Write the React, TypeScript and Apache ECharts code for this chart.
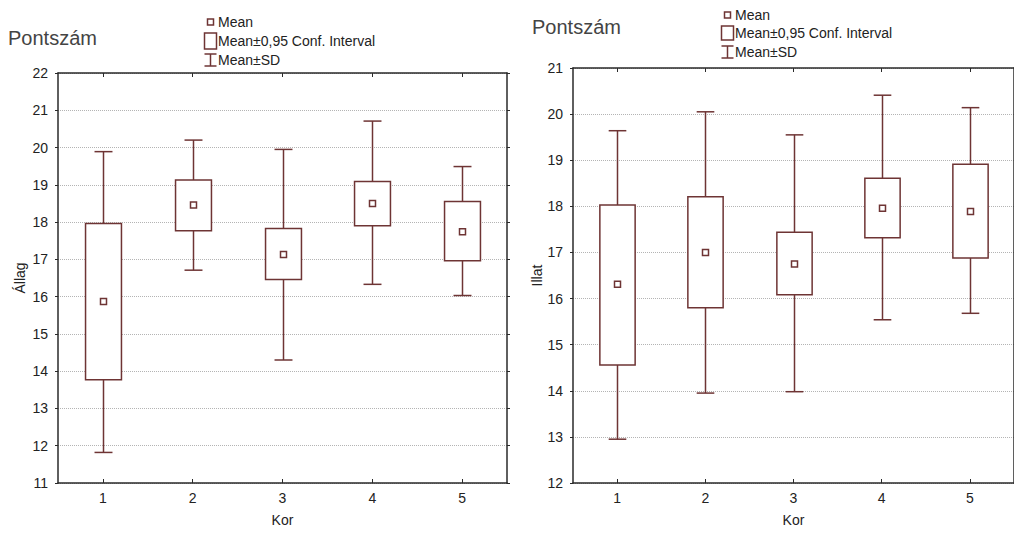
import React, { useEffect, useRef } from "react";
import * as echarts from "echarts";

const categories = ["1", "2", "3", "4", "5"];

const allagMean = [15.87, 18.46, 17.13, 18.5, 17.74];
const allagCiLow = [13.77, 17.77, 16.46, 17.9, 16.96];
const allagCiHigh = [17.96, 19.13, 17.83, 19.09, 18.55];
const allagSdLow = [11.82, 16.71, 14.3, 16.33, 16.03];
const allagSdHigh = [19.89, 20.2, 19.95, 20.71, 19.49];

const illatMean = [16.31, 17.0, 16.75, 17.96, 17.89];
const illatCiLow = [14.56, 15.8, 16.08, 17.32, 16.88];
const illatCiHigh = [18.03, 18.21, 17.44, 18.61, 18.91];
const illatSdLow = [12.95, 13.95, 13.98, 15.54, 15.68];
const illatSdHigh = [19.64, 20.05, 19.55, 20.41, 20.14];

const leftTicks = { min: 11, max: 22 };
const rightTicks = { min: 12, max: 21 };

const MARK = "#6e3434";
const AXIS = "#2a2a2a";
const TXT = "#222222";
const FONT = "'Liberation Sans', Arial, sans-serif";

function rows(sdLo: number[], ciLo: number[], mean: number[], ciHi: number[], sdHi: number[]) {
  return categories.map((_, i) => [i, sdLo[i], ciLo[i], mean[i], ciHi[i], sdHi[i]]);
}

function renderBox(params: any, api: any) {
  const idx = api.value(0);
  const pSdLo = api.coord([idx, api.value(1)]);
  const pCiLo = api.coord([idx, api.value(2)]);
  const pMean = api.coord([idx, api.value(3)]);
  const pCiHi = api.coord([idx, api.value(4)]);
  const pSdHi = api.coord([idx, api.value(5)]);
  const band = api.size([1, 0])[0];
  const cx = Math.round(pMean[0]) + 0.5;
  const bw = band * 0.4;
  const cw = band * 0.2;
  const st = { stroke: MARK, lineWidth: 1.5, fill: "none" };
  return {
    type: "group",
    children: [
      { type: "line", shape: { x1: cx, y1: pSdLo[1], x2: cx, y2: pSdHi[1] }, style: st },
      { type: "line", shape: { x1: cx - cw / 2, y1: pSdLo[1], x2: cx + cw / 2, y2: pSdLo[1] }, style: st },
      { type: "line", shape: { x1: cx - cw / 2, y1: pSdHi[1], x2: cx + cw / 2, y2: pSdHi[1] }, style: st },
      {
        type: "rect",
        shape: { x: cx - bw / 2, y: pCiHi[1], width: bw, height: pCiLo[1] - pCiHi[1] },
        style: { stroke: MARK, lineWidth: 1.5, fill: "#ffffff" },
      },
      {
        type: "rect",
        shape: { x: cx - 3, y: pMean[1] - 3, width: 6, height: 6 },
        style: { stroke: MARK, lineWidth: 1.5, fill: "#ffffff" },
      },
    ],
  };
}

function xAxes(grid: number, name: string) {
  const base = {
    gridIndex: grid,
    type: "category",
    data: categories,
    boundaryGap: true,
    axisLine: { show: true, lineStyle: { color: AXIS, width: 1.5 } },
    axisTick: { show: true, inside: true, alignWithLabel: true, length: 4, lineStyle: { color: AXIS } },
    splitLine: { show: false },
  };
  return [
    {
      ...base,
      position: "bottom",
      axisLabel: { show: true, color: TXT, fontSize: 14, fontFamily: FONT, margin: 8 },
      name,
      nameLocation: "middle",
      nameGap: 30,
      nameTextStyle: { color: TXT, fontSize: 14, fontFamily: FONT },
    },
    { ...base, position: "top", axisLabel: { show: false } },
  ];
}

function yAxes(grid: number, lim: { min: number; max: number }, name: string, gap: number) {
  const base = {
    gridIndex: grid,
    type: "value",
    min: lim.min,
    max: lim.max,
    interval: 1,
    axisLine: { show: true, lineStyle: { color: AXIS, width: 1.5 } },
    axisTick: { show: true, inside: false, length: 3, lineStyle: { color: AXIS } },
  };
  return [
    {
      ...base,
      position: "left",
      axisLabel: { show: true, color: TXT, fontSize: 14, fontFamily: FONT, margin: 10 },
      splitLine: { show: true, lineStyle: { color: "#b4b4b4", type: "dotted", width: 1 } },
      name,
      nameLocation: "middle",
      nameRotate: 90,
      nameGap: gap,
      nameTextStyle: { color: TXT, fontSize: 14, fontFamily: FONT },
    },
    { ...base, position: "right", axisLabel: { show: false }, splitLine: { show: false } },
  ];
}

function legend(x0: number, rowsY: number[], rectH: number) {
  const st = { stroke: MARK, lineWidth: 1.5, fill: "none" };
  const ts = (t: string, y: number) => ({
    type: "text",
    x: x0 + 14,
    y,
    style: { text: t, fill: TXT, fontSize: 14, fontFamily: FONT, verticalAlign: "middle", align: "left" },
  });
  const cx = x0 + 6.5;
  return [
    { type: "rect", shape: { x: cx - 3, y: rowsY[0] - 3, width: 6, height: 6 }, style: { ...st, fill: "#fff" } },
    ts("Mean", rowsY[0]),
    { type: "rect", shape: { x: x0 + 0.5, y: rowsY[1] - rectH / 2, width: 12, height: rectH }, style: { ...st, fill: "#fff" } },
    ts("Mean±0,95 Conf. Interval", rowsY[1]),
    { type: "line", shape: { x1: cx, y1: rowsY[2] - 6, x2: cx, y2: rowsY[2] + 6 }, style: st },
    { type: "line", shape: { x1: x0 + 0.5, y1: rowsY[2] - 6, x2: x0 + 12.5, y2: rowsY[2] - 6 }, style: st },
    { type: "line", shape: { x1: x0 + 0.5, y1: rowsY[2] + 6, x2: x0 + 12.5, y2: rowsY[2] + 6 }, style: st },
    ts("Mean±SD", rowsY[2]),
  ];
}

export default function App() {
  const ref = useRef<HTMLDivElement>(null);
  useEffect(() => {
    if (!ref.current) return;
    const chart = echarts.init(ref.current, null, { renderer: "svg" });
    chart.setOption({
      animation: false,
      backgroundColor: "#ffffff",
      grid: [
        { left: 58, top: 73, width: 449, height: 410 },
        { left: 573, top: 68, width: 454, height: 415 },
      ],
      xAxis: [...xAxes(0, "Kor"), ...xAxes(1, "Kor")],
      yAxis: [...yAxes(0, leftTicks, "Állag", 31), ...yAxes(1, rightTicks, "Illat", 29)],
      series: [
        {
          type: "custom",
          xAxisIndex: 0,
          yAxisIndex: 0,
          renderItem: renderBox,
          encode: { x: 0, y: [1, 2, 3, 4, 5] },
          data: rows(allagSdLow, allagCiLow, allagMean, allagCiHigh, allagSdHigh),
          clip: false,
        },
        {
          type: "custom",
          xAxisIndex: 2,
          yAxisIndex: 2,
          renderItem: renderBox,
          encode: { x: 0, y: [1, 2, 3, 4, 5] },
          data: rows(illatSdLow, illatCiLow, illatMean, illatCiHigh, illatSdHigh),
          clip: false,
        },
      ],
      graphic: [
        {
          type: "text",
          x: 8,
          y: 38,
          style: { text: "Pontszám", fill: "#444", fontSize: 20, fontWeight: "normal", fontFamily: FONT, verticalAlign: "middle" },
        },
        {
          type: "text",
          x: 532,
          y: 27,
          style: { text: "Pontszám", fill: "#444", fontSize: 20, fontWeight: "normal", fontFamily: FONT, verticalAlign: "middle" },
        },
        ...legend(204, [22, 41, 60], 16),
        ...legend(721, [15, 33, 52], 14),
      ],
    });
    return () => chart.dispose();
  }, []);
  return <div ref={ref} style={{ position: "absolute", left: 0, top: 0, width: 1014, height: 533 }} />;
}
